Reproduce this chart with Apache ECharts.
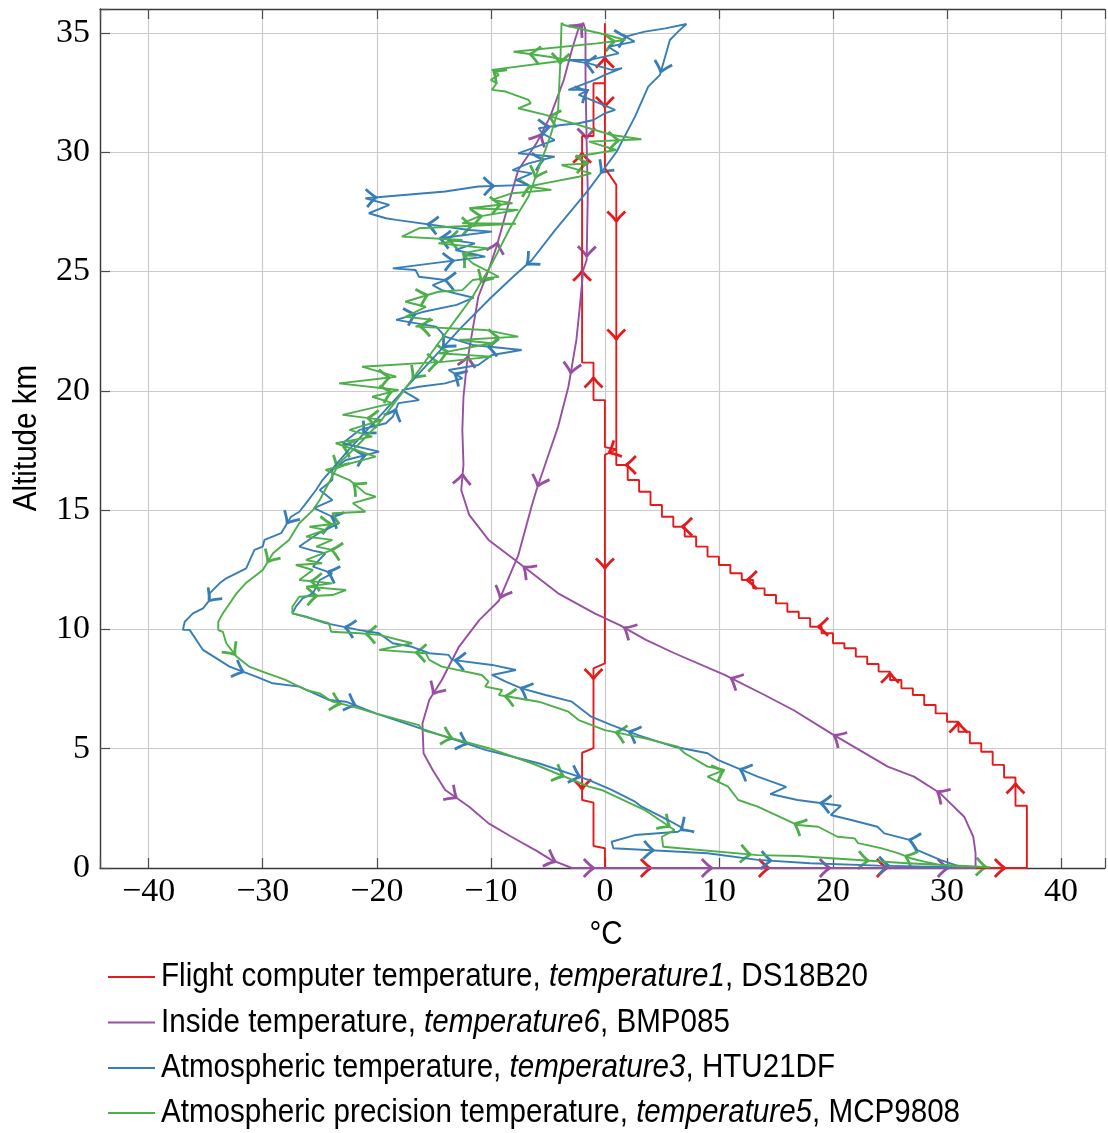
<!DOCTYPE html>
<html>
<head>
<meta charset="utf-8">
<script src="https://cdn.jsdelivr.net/npm/echarts@6/dist/echarts.min.js"></script>
<style>
  html, body { margin: 0; padding: 0; background: #ffffff; }
  #chart { width: 1108px; height: 1133px; }
</style>
</head>
<body>
<div id="chart"></div>
<script>
// ---------------------------------------------------------------------------
// Balloon flight: temperature against altitude, ascent and descent.
// Every path is [temperature °C, altitude km].
// ---------------------------------------------------------------------------

// Flight computer, DS18B20 (1 °C steps)
const fcGround = [[0, 0], [37, 0]];
const fcAscentTemps = [37, 36, 35, 34, 33, 32, 31, 30, 29, 28, 27, 26, 25, 24, 23, 22, 21, 20, 19,
  18, 17, 16, 15, 14, 13, 12, 11, 10, 9, 8, 7, 6, 5, 4, 3, 2, 1];
// altitude at which each reading above gives way to the next one
const fcAscentStepTops = [2.61, 3.79, 4.32, 4.87, 5.23, 5.71, 6.13, 6.48, 6.83, 7.25, 7.53, 7.88,
  8.23, 8.55, 8.86, 9.21, 9.42, 9.84, 10.11, 10.47, 10.74, 11.09, 11.44, 11.72, 12.07, 12.35,
  12.70, 13.05, 13.47, 13.89, 14.30, 14.72, 15.21, 15.77, 16.26, 16.89, 17.55];
const fcAscentUpper = [[0, 17.64], [0, 19.61], [-1, 19.61], [-1, 21.18], [-2, 21.18], [-2, 30.68],
  [-1, 30.68], [-1, 32.89], [0, 32.89], [0, 35.40]];
const fcDescent = [[0, 35.40], [0, 29.33], [1, 28.63], [1, 17.55], [0, 17.31], [0, 8.58], [-1, 8.37],
  [-1, 5.02], [-2, 4.83], [-2, 2.85], [-1, 2.74], [-1, 0.92], [0, 0.83], [0, 0]];

// Inside temperature, BMP085
const bmpGround = [[-2.9, 0], [32.5, 0]];
const bmpAscent = [[32.5, 0], [32.5, 0.62], [32.3, 1.31], [31.5, 2.15], [29.4, 3.13], [27.1, 3.83],
  [24.8, 4.25], [22.3, 4.95], [19.9, 5.62], [16.6, 6.6], [14.0, 7.25], [10.5, 8.09], [6.1, 9.0],
  [3.6, 9.56], [1.3, 10.18], [-0.9, 10.67], [-4.1, 11.51], [-7.6, 12.8], [-10.2, 13.75],
  [-11.9, 14.8], [-12.6, 15.84], [-12.4, 16.9], [-12.5, 18.36], [-12.4, 19.75], [-12.1, 21.15],
  [-11.6, 22.55], [-11.1, 23.94], [-10.2, 25.06], [-9.5, 26.04], [-8.6, 27.58], [-7.6, 29.25],
  [-6.0, 30.37], [-4.8, 31.49], [-3.6, 33.03], [-2.9, 34.28], [-2.3, 35.2], [-1.9, 35.42]];
const bmpDescent = [[-1.9, 35.42], [-1.7, 35.12], [-1.7, 33.16], [-1.6, 30.37], [-1.5, 28.28],
  [-1.6, 25.48], [-1.9, 25.06], [-2.2, 23.52], [-2.5, 22.13], [-3.2, 20.17], [-4.1, 18.5],
  [-4.9, 17.38], [-6.0, 15.84], [-6.4, 15.2], [-7.6, 13.1], [-9.3, 11.2], [-11.0, 10.4],
  [-12.8, 9.27], [-14.3, 7.88], [-15.4, 7.04], [-16.0, 6.06], [-15.9, 4.81], [-15.1, 4.11],
  [-14.0, 3.27], [-11.9, 2.57], [-10.2, 1.87], [-8.2, 1.31], [-6.1, 0.75], [-4.7, 0.34], [-2.9, 0]];

// Atmospheric temperature, HTU21DF (ascent tabulated from burst altitude down)
const htuAscentFromTop = [[7.15, 35.37], [5.3, 35.19], [3.5, 35.05], [1.8, 34.84], [2.6, 34.63],
  [0.3, 34.42], [1.2, 34.14], [-1.4, 33.86], [-3.2, 33.86], [-1.4, 33.72], [0.6, 33.45], [1.5, 33.52],
  [0.0, 33.24], [-0.9, 33.03], [-3.2, 32.61], [-1.4, 32.61], [-2.3, 32.4], [-1.2, 32.19], [0.9, 31.77],
  [0.0, 31.63], [-1.0, 31.35], [-2.3, 31.21], [-3.8, 31.14], [-5.8, 31.0], [-5.5, 30.79], [-4.4, 30.51],
  [-5.2, 30.37], [-7.6, 29.95], [-4.4, 29.81], [-6.7, 29.53], [-8.1, 29.25], [-6.4, 29.11], [-7.8, 28.83],
  [-6.7, 28.63], [-11.1, 28.56], [-14.0, 28.35], [-21.0, 28.07], [-18.9, 27.79], [-20.7, 27.44],
  [-19.2, 27.23], [-18.3, 27.16], [-11.9, 26.74], [-9.9, 26.67], [-14.5, 26.39], [-11.4, 26.18],
  [-13.1, 25.9], [-10.5, 25.62], [-18.6, 25.13], [-16.6, 25.06], [-16.3, 24.78], [-14.0, 24.64],
  [-15.1, 24.43], [-14.3, 24.22], [-11.5, 23.9], [-13.0, 23.6], [-16.0, 23.3], [-18.3, 22.97],
  [-14.8, 22.69], [-14.0, 22.27], [-11.6, 21.92], [-7.3, 21.71], [-9.9, 21.5], [-11.1, 21.08],
  [-13.7, 20.87], [-12.5, 20.52], [-14.0, 20.31], [-16.3, 20.17], [-17.8, 20.03], [-16.3, 19.61],
  [-18.1, 19.48], [-18.6, 18.91], [-19.2, 18.64], [-21.5, 18.36], [-23.0, 17.8], [-19.8, 17.45],
  [-22.7, 17.1], [-23.9, 16.68], [-23.9, 16.26], [-25.0, 15.84], [-23.9, 15.42], [-25.5, 15.08],
  [-23.9, 14.72], [-23.3, 14.45], [-25.2, 14.0], [-26.8, 13.47], [-25.6, 13.3], [-24.5, 13.19],
  [-25.6, 12.63], [-23.9, 12.35], [-25.0, 12.07], [-25.6, 11.51], [-26.5, 11.3], [-27.1, 10.95],
  [-27.4, 10.67], [-26.2, 10.53], [-24.5, 10.26], [-21.5, 9.97], [-19.8, 9.84], [-18.6, 9.42],
  [-16.9, 9.27], [-15.4, 9.0], [-13.7, 8.93], [-13.4, 8.72], [-9.9, 8.51], [-7.8, 8.3], [-9.9, 8.09],
  [-8.7, 7.81], [-7.3, 7.53], [-5.2, 7.25], [-2.9, 6.97], [-1.2, 6.34], [0.6, 5.99], [2.9, 5.57],
  [6.1, 5.08], [9.0, 4.81], [9.9, 4.53], [13.4, 3.83], [15.9, 3.4], [14.5, 3.1], [16.9, 2.85],
  [20.7, 2.61], [19.8, 2.22], [21.6, 2.01], [23.9, 1.73], [24.5, 1.45], [26.8, 1.17], [27.4, 0.75],
  [29.4, 0.34], [31.2, 0.05]];
const htuDescent = [[7.15, 35.37], [6.42, 35.05], [5.7, 34.7], [4.83, 33.24], [3.8, 32.75],
  [2.64, 31.49], [1.03, 30.02], [-1.44, 28.42], [-4.35, 26.74], [-6.4, 25.48], [-8.0, 24.8],
  [-10.0, 23.9], [-12.5, 22.7], [-15.0, 21.4], [-17.5, 20.1], [-20.0, 18.8], [-22.5, 17.5],
  [-24.76, 16.26], [-25.33, 15.84], [-26.2, 15.29], [-26.79, 14.93], [-27.52, 14.72], [-28.39, 14.03],
  [-29.85, 13.75], [-30.0, 13.47], [-30.73, 13.33], [-31.45, 12.56], [-33.2, 12.14], [-33.79, 11.93],
  [-34.66, 11.51], [-34.66, 11.23], [-35.24, 10.88], [-36.12, 10.67], [-36.84, 10.32], [-37.0, 9.98],
  [-36.41, 9.98], [-35.24, 9.14], [-32.91, 8.44], [-30.58, 8.02], [-29.13, 7.74], [-26.79, 7.6],
  [-24.17, 7.04], [-22.71, 6.97], [-20.09, 6.48], [-15.72, 5.78], [-10.47, 4.95], [-5.81, 4.39],
  [-1.44, 3.69], [0.59, 3.27], [2.64, 2.78], [3.22, 2.57], [5.55, 2.01], [6.86, 1.66], [6.42, 1.52],
  [2.64, 1.38], [0.59, 1.1], [0.74, 0.83], [9.0, 0.62], [13.4, 0.34], [18.0, 0.2], [24.0, 0.1],
  [30.5, 0.03]];

// Atmospheric precision temperature, MCP9808 (ascent tabulated from burst altitude down)
const mcpAscentFromTop = [[-3.8, 35.42], [-3.6, 35.33], [0.2, 34.91], [1.8, 34.7], [-0.7, 34.56],
  [-8.0, 34.21], [-4.9, 34.0], [-3.2, 33.86], [-9.9, 33.45], [-9.3, 33.24], [-10.0, 33.03],
  [-9.5, 32.89], [-9.9, 32.61], [-8.7, 32.54], [-6.7, 32.19], [-6.5, 32.05], [-7.6, 31.84],
  [-5.2, 31.56], [-3.8, 31.35], [0.6, 30.72], [3.2, 30.54], [-1.4, 30.44], [1.0, 30.09], [-2.6, 29.81],
  [-1.4, 29.53], [-3.8, 29.46], [-1.2, 29.11], [-2.3, 28.97], [-5.2, 28.7], [-6.7, 28.56], [-4.7, 28.42],
  [-8.1, 28.28], [-9.9, 28.0], [-8.1, 27.86], [-11.9, 27.65], [-7.6, 27.58], [-11.1, 27.3],
  [-12.5, 27.02], [-7.8, 27.0], [-16.3, 26.81], [-17.8, 26.46], [-12.5, 26.32], [-14.6, 26.18],
  [-10.2, 25.97], [-12.5, 25.76], [-11.6, 25.34], [-9.3, 24.78], [-11.6, 24.64], [-12.5, 24.22],
  [-14.6, 24.15], [-17.5, 23.73], [-15.7, 23.52], [-17.5, 23.1], [-15.1, 22.97], [-16.6, 22.69],
  [-10.5, 22.55], [-7.6, 22.27], [-12.8, 22.13], [-9.9, 21.99], [-14.6, 21.57], [-9.9, 21.43],
  [-14.0, 21.22], [-21.3, 21.01], [-18.3, 20.59], [-23.3, 20.31], [-18.1, 20.03], [-20.4, 19.75],
  [-18.6, 19.48], [-23.0, 18.99], [-19.5, 18.78], [-22.4, 18.36], [-20.4, 18.08], [-23.6, 17.8],
  [-20.1, 17.24], [-24.5, 16.68], [-22.4, 16.26], [-21.0, 15.7], [-20.1, 15.56], [-22.1, 15.29],
  [-21.0, 14.93], [-23.9, 14.87], [-23.3, 14.45], [-25.9, 14.3], [-24.5, 14.17], [-26.2, 13.89],
  [-23.9, 13.75], [-25.3, 13.47], [-23.9, 13.33], [-26.2, 12.91], [-24.8, 12.77], [-27.1, 12.7],
  [-25.6, 12.49], [-26.8, 12.07], [-23.9, 11.93], [-26.2, 11.79], [-22.7, 11.65], [-23.9, 11.44],
  [-26.8, 11.37], [-27.4, 10.95], [-27.4, 10.67], [-24.2, 10.26], [-24.0, 9.9], [-21.5, 9.84],
  [-19.8, 9.77], [-16.9, 9.42], [-19.8, 9.14], [-15.7, 9.0], [-15.4, 8.72], [-14.3, 8.44],
  [-10.8, 8.09], [-10.2, 7.81], [-10.5, 7.6], [-9.0, 7.46], [-9.3, 7.25], [-5.8, 6.97], [-3.2, 6.55],
  [-2.3, 6.2], [0.0, 5.78], [3.5, 5.43], [6.4, 5.08], [7.0, 4.81], [9.0, 4.25], [10.5, 4.11],
  [9.0, 3.83], [10.8, 3.41], [11.7, 2.85], [13.4, 2.57], [16.9, 1.8], [18.7, 1.73], [20.4, 1.31],
  [21.9, 1.24], [22.2, 1.04], [24.2, 0.83], [25.7, 0.62], [26.8, 0.41], [28.0, 0.27], [29.4, 0.13],
  [31.5, 0.05]];
const mcpDescent = [[-3.8, 35.42], [-3.9, 33.86], [-4.1, 31.77], [-4.8, 30.65], [-6.7, 28.14],
  [-7.6, 27.44], [-8.4, 26.74], [-9.9, 25.34], [-11.6, 23.94], [-13.1, 22.97], [-14.6, 21.99],
  [-16.3, 20.87], [-17.8, 19.9], [-19.8, 18.64], [-21.5, 17.8], [-23.3, 16.96], [-25.0, 15.42],
  [-25.6, 15.0], [-26.8, 14.45], [-27.7, 13.75], [-29.1, 13.19], [-30.0, 12.49], [-31.5, 11.93],
  [-32.3, 11.51], [-33.1, 10.95], [-33.5, 10.67], [-33.9, 10.32], [-33.9, 9.97], [-33.5, 9.9],
  [-33.2, 9.42], [-32.3, 8.86], [-31.2, 8.44], [-29.6, 8.16], [-28.0, 7.88], [-26.2, 7.46],
  [-25.0, 7.32], [-23.9, 6.97], [-22.1, 6.76], [-20.1, 6.48], [-16.3, 5.99], [-16.0, 5.78],
  [-10.2, 5.02], [-6.4, 4.39], [-1.4, 3.41], [-0.3, 3.27], [3.5, 2.43], [6.1, 1.59], [5.0, 1.31],
  [5.1, 0.89], [13.4, 0.54], [16.9, 0.5], [26.5, 0.2], [33.8, 0.03]];

// Legend text: plain part, italic variable name, sensor
const legendParts = [
  ['Flight computer temperature, ', 'temperature1', ', DS18B20'],
  ['Inside temperature, ', 'temperature6', ', BMP085'],
  ['Atmospheric temperature, ', 'temperature3', ', HTU21DF'],
  ['Atmospheric precision temperature, ', 'temperature5', ', MCP9808']
];
const seriesColors = ['#e41a1c', '#984ea3', '#377eb8', '#4daf4a'];

// ---------------------------------------------------------------------------
// Build the full flight paths
// ---------------------------------------------------------------------------
const fcPath = fcGround.slice();
let stepBase = 0;
fcAscentTemps.forEach((t, i) => {
  fcPath.push([t, stepBase], [t, fcAscentStepTops[i]]);
  stepBase = fcAscentStepTops[i];
});
fcPath.push(...fcAscentUpper, ...fcDescent);

const bmpPath = [...bmpGround, ...bmpAscent, ...bmpDescent];
const htuPath = [...htuAscentFromTop.slice().reverse(), ...htuDescent];
const mcpPath = [...mcpAscentFromTop.slice().reverse(), ...mcpDescent];

const paths = [fcPath, bmpPath, htuPath, mcpPath];
const seriesNames = legendParts.map(p => p.join(''));

// Computer Modern Sans is narrow: a horizontally condensed sans stands in for it
const SANS = '"Liberation Sans", Arimo, Arial, sans-serif';
const SANS_SIZE = 34;
const SANS_SCALE = 0.87;
const SERIF = '"Liberation Serif", "DejaVu Serif", serif';
const minus = v => String(v).replace('-', '\u2212');

const X_MIN = -44.27, X_MAX = 43.85;
const GRID = { left: 100, right: 0, top: 9, bottom: 265 };
const LINE_WIDTH = 1.9;

function sansText(x, y, text, opts) {
  return Object.assign({
    type: 'text', x: x, y: y, scaleX: SANS_SCALE, silent: true,
    style: {
      text: text, fill: '#000', fontFamily: SANS, fontSize: SANS_SIZE,
      align: 'left', verticalAlign: 'middle'
    }
  }, opts || {});
}

function legendGraphics() {
  const rowY = [977, 1022.5, 1068, 1113];
  const items = [];
  legendParts.forEach((p, i) => {
    items.push({
      type: 'line', silent: true,
      shape: { x1: 108, y1: rowY[i], x2: 155, y2: rowY[i] },
      style: { stroke: seriesColors[i], lineWidth: LINE_WIDTH }
    });
    const t = sansText(161, rowY[i], '');
    t.style.text = '{r|' + p[0] + '}{i|' + p[1] + '}{r|' + p[2] + '}';
    t.style.rich = {
      r: { fontFamily: SANS, fontSize: SANS_SIZE, fill: '#000' },
      i: { fontFamily: SANS, fontSize: SANS_SIZE, fill: '#000', fontStyle: 'italic' }
    };
    items.push(t);
  });
  // axis titles
  items.push(sansText(606, 935, '°C', { style: {
    text: '°C', fill: '#000', fontFamily: SANS, fontSize: SANS_SIZE, align: 'center', verticalAlign: 'middle' } }));
  items.push(sansText(27, 438, 'Altitude km', { rotation: Math.PI / 2, style: {
    text: 'Altitude km', fill: '#000', fontFamily: SANS, fontSize: SANS_SIZE, align: 'center', verticalAlign: 'middle' } }));
  return items;
}

function baseOption(seriesList) {
  return {
    animation: false,
    backgroundColor: '#ffffff',
    grid: Object.assign({ containLabel: false }, GRID),
    xAxis: [{
      type: 'value', min: X_MIN, max: X_MAX, splitNumber: 9, position: 'bottom',
      axisLine: { show: true, onZero: false, lineStyle: { color: '#3a3a3a', width: 1.4 } },
      axisTick: { show: true, inside: true, length: 10, lineStyle: { color: '#4d4d4d', width: 1.2 } },
      axisLabel: {
        margin: 7, color: '#000', fontFamily: SERIF, fontSize: 34,
        formatter: v => (Math.abs(v % 10) < 1e-6 ? minus(v) : '')
      },
      splitLine: { show: true, lineStyle: { color: '#cbcbcb', width: 1.2 } }
    }, {
      type: 'value', min: X_MIN, max: X_MAX, splitNumber: 9, position: 'top',
      axisLine: { show: true, onZero: false, lineStyle: { color: '#3a3a3a', width: 1.4 } },
      axisTick: { show: true, inside: true, length: 10, lineStyle: { color: '#4d4d4d', width: 1.2 } },
      axisLabel: { show: false },
      splitLine: { show: false }
    }],
    yAxis: {
      type: 'value', min: 0, max: 36, interval: 5,
      axisLine: { show: true, onZero: false, lineStyle: { color: '#3a3a3a', width: 1.4 } },
      axisTick: { show: true, inside: true, length: 10, lineStyle: { color: '#4d4d4d', width: 1.2 } },
      axisLabel: {
        margin: 10, color: '#000', fontFamily: SERIF, fontSize: 34,
        formatter: v => (v % 5 === 0 ? String(v) : '')
      },
      splitLine: { show: true, lineStyle: { color: '#cbcbcb', width: 1.2 } }
    },
    graphic: legendGraphics(),
    series: seriesList
  };
}

function lineSeries(i) {
  return {
    type: 'line', name: seriesNames[i], data: paths[i],
    showSymbol: false, symbol: 'none', smooth: false,
    lineStyle: { color: seriesColors[i], width: LINE_WIDTH },
    itemStyle: { color: seriesColors[i] },
    emphasis: { disabled: true }
  };
}

// Direction arrows spaced evenly along each drawn path (arc length in pixels)
function arrowMarks(chart, path, step, start) {
  const px = path.map(p => chart.convertToPixel({ xAxisIndex: 0, yAxisIndex: 0 }, p));
  const out = [];
  let acc = 0, next = start;
  for (let i = 1; i < px.length; i++) {
    const x0 = px[i - 1][0], y0 = px[i - 1][1], x1 = px[i][0], y1 = px[i][1];
    const len = Math.hypot(x1 - x0, y1 - y0);
    if (len === 0) continue;
    while (next <= acc + len) {
      const t = (next - acc) / len;
      const d = chart.convertFromPixel({ xAxisIndex: 0, yAxisIndex: 0 },
        [x0 + (x1 - x0) * t, y0 + (y1 - y0) * t]);
      out.push([d[0], d[1], Math.atan2(y1 - y0, x1 - x0)]);
      next += step;
    }
    acc += len;
  }
  return out;
}

function arrowSeries(i, data) {
  const color = seriesColors[i];
  return {
    type: 'custom', name: 'direction ' + i, data: data, silent: true, clip: false,
    renderItem: (params, api) => {
      const p = api.coord([api.value(0), api.value(1)]);
      const a = api.value(2);
      const ux = Math.cos(a), uy = Math.sin(a);
      const nx = -uy, ny = ux;
      const pt = (lx, ly) => [p[0] + lx * ux + ly * nx, p[1] + lx * uy + ly * ny];
      const barb = s => {
        const e = pt(-10, 9 * s), c = pt(-3.2, 1.7 * s);
        return {
          type: 'bezierCurve',
          shape: { x1: e[0], y1: e[1], x2: p[0], y2: p[1], cpx1: c[0], cpy1: c[1] },
          style: { stroke: color, fill: 'none', lineWidth: 2.8 }
        };
      };
      return { type: 'group', children: [barb(1), barb(-1)] };
    }
  };
}

const chart = echarts.init(document.getElementById('chart'), null, { renderer: 'canvas' });
chart.setOption(baseOption(paths.map((p, i) => lineSeries(i))));

const arrowStep = 118;
const arrowStart = [46, 22, 60, 60];
const allSeries = [];
paths.forEach((p, i) => {
  allSeries.push(lineSeries(i));
  allSeries.push(arrowSeries(i, arrowMarks(chart, p, arrowStep, arrowStart[i])));
});
chart.setOption(baseOption(allSeries), true);
</script>
</body>
</html>
